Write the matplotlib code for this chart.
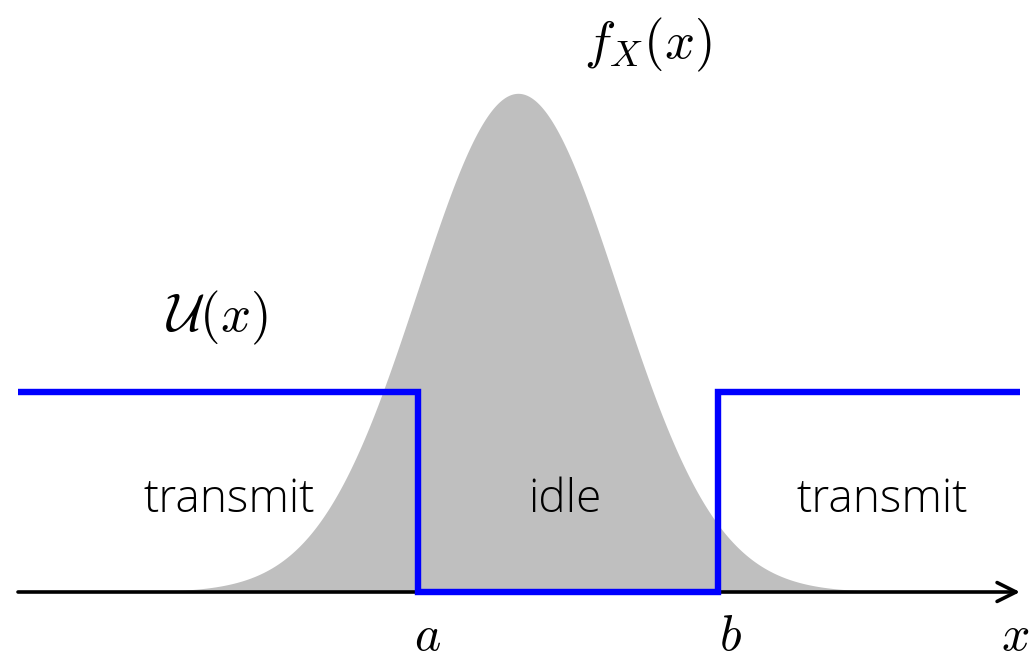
import numpy as np
import matplotlib.pyplot as plt

plt.rcParams["mathtext.fontset"] = "cm"

# density parameters and decision thresholds
mu, sigma = 0.0, 1.0
a_thr, b_thr = -1.0, 2.0
u_level = 0.16
x_span = [-5.0, 5.02]

region_labels = ["transmit", "idle", "transmit"]
region_x = [-2.89, 0.47, 3.64]


def normal_pdf(x, m, s):
    return np.exp(-0.5 * ((x - m) / s) ** 2) / (s * np.sqrt(2 * np.pi))


fig = plt.figure(figsize=(10.31, 6.6), dpi=100)
ax = fig.add_axes([0, 0, 1, 1])
ax.set_xlim(-5.18, 5.13)
ax.set_ylim(-0.0544, 0.4736)
ax.axis("off")

xs = np.linspace(x_span[0], x_span[1], 800)
ax.fill_between(xs, 0, normal_pdf(xs, mu, sigma), color="#bfbfbf", lw=0, zorder=1)

# x axis with arrow
ax.annotate("", xy=(x_span[1], 0), xytext=(x_span[0], 0),
            arrowprops=dict(arrowstyle="->", lw=2.6, color="black",
                            mutation_scale=34, shrinkA=0, shrinkB=0),
            zorder=2)

# utility step: transmit outside [a, b], idle inside
ux = [x_span[0], a_thr, a_thr, b_thr, b_thr, x_span[1]]
uy = [u_level, u_level, 0, 0, u_level, u_level]
ax.plot(ux, uy, color="#0000ff", lw=4.6, solid_joinstyle="miter",
        solid_capstyle="butt", zorder=3)

for lbl, xp in zip(region_labels, region_x):
    ax.text(xp, 0.0736, lbl, ha="center", va="center", fontsize=33,
            family="Open Sans", fontweight="light", color="black", zorder=4)

ax.text(1.3, 0.4376, r"$f_X(x)$", ha="center", va="center", fontsize=38)
ax.text(-3.01, 0.219, r"$\mathcal{U}(x)$", ha="center", va="center", fontsize=38)
ax.text(a_thr + 0.1, -0.0352, r"$a$", ha="center", va="center", fontsize=36)
ax.text(b_thr + 0.12, -0.0352, r"$b$", ha="center", va="center", fontsize=36)
ax.text(4.97, -0.0352, r"$x$", ha="center", va="center", fontsize=36)

fig.savefig("out.png", dpi=100)
